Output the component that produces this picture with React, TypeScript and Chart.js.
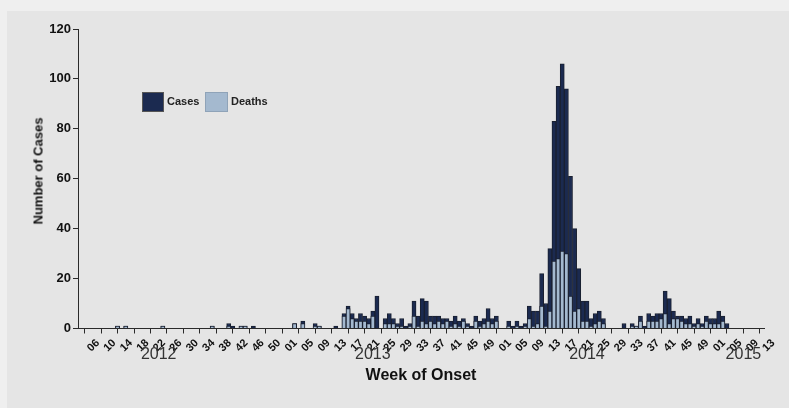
import React, { useEffect, useRef } from "react";
import { Chart, registerables } from "chart.js";
Chart.register(...registerables);

// Weekly counts, 2012 week 06 .. 2015 week 13
const cases2012 = [0,0,0,0,0,0, 1,0,1, 0,0,0,0,0,0,0,0, 1, 0,0,0,0,0,0,0,0,0,0,0, 1, 0,0,0, 2,1,0,1,1,0,1, 0,0,0,0,0,0,0];
const deaths2012 = [0,0,0,0,0,0, 1,0,1, 0,0,0,0,0,0,0,0, 1, 0,0,0,0,0,0,0,0,0,0,0, 1, 0,0,0, 1,0,0,1,1,0,0, 0,0,0,0,0,0,0];

const cases2013 = [
  0,0,2,0,3,0,0,2,1,0,
  0,0,1,0,6,9,6,4,6,5,
  4,7,13,0,4,6,4,2,4,1,
  2,11,5,12,11,5,5,5,4,4,
  3,5,3,4,2,1,5,3,4,8,
  4,5];
const deaths2013 = [
  0,0,2,0,2,0,0,1,1,0,
  0,0,0,0,5,8,4,3,3,3,
  2,5,0,0,2,2,2,1,1,0,
  1,5,1,3,2,3,2,3,2,3,
  1,2,1,3,1,0,3,1,2,3,
  2,3];

const cases2014 = [
  0,0,3,1,3,1,2,9,7,7,
  22,10,32,83,97,106,96,61,40,24,
  11,11,4,6,7,4,0,0,0,0,
  2,0,2,1,5,1,6,5,6,6,
  15,12,7,5,5,4,5,2,4,2,
  5,4];
const deaths2014 = [
  0,0,1,0,1,0,1,4,1,2,
  9,1,7,27,28,31,30,13,7,8,
  3,3,1,2,3,2,0,0,0,0,
  0,0,1,1,3,0,3,3,3,4,
  6,2,4,4,3,2,2,1,2,1,
  3,2];

const cases2015 = [4,7,5,2,0,0,0,0,0,0,0,0,0];
const deaths2015 = [2,2,3,0,0,0,0,0,0,0,0,0,0];

const tickLabels = [
  "06","10","14","18","22","26","30","34","38","42","46","50",
  "01","05","09","13","17","21","25","29","33","37","41","45","49",
  "01","05","09","13","17","21","25","29","33","37","41","45","49",
  "01","05","09","13"];
const yearLabels = ["2012", "2013", "2014", "2015"];
const yearLabelWeekIndex = [16, 68, 120, 158];

const seriesLabels = ["Cases", "Deaths"];
const COLORS = { cases: "#1b2a50", deaths: "#a4b9cf", edge: "#1a2030", axis: "#2a2a2a" };
const FONT = '"Liberation Sans", Arial, sans-serif';

export default function App() {
  const canvasRef = useRef<HTMLCanvasElement | null>(null);

  useEffect(() => {
    if (!canvasRef.current) return;
    const cases = [...cases2012, ...cases2013, ...cases2014, ...cases2015];
    const deaths = [...deaths2012, ...deaths2013, ...deaths2014, ...deaths2015];
    const casePts = cases.map((v, i) => ({ x: i, y: v }));
    const deathPts = deaths.map((v, i) => ({ x: i, y: v }));

    const yearPlugin = {
      id: "years",
      afterDraw(chart: any) {
        const ctx = chart.ctx;
        const xs = chart.scales.x;
        ctx.save();
        ctx.font = `16px ${FONT}`;
        ctx.fillStyle = "#333";
        ctx.textAlign = "center";
        ctx.textBaseline = "middle";
        yearLabels.forEach((t, k) => ctx.fillText(t, xs.getPixelForValue(yearLabelWeekIndex[k]), 355));
        ctx.restore();
      },
    };

    const chart = new Chart(canvasRef.current, {
      type: "bar",
      data: {
        datasets: [
          {
            label: seriesLabels[1],
            data: deathPts,
            backgroundColor: COLORS.deaths,
            borderColor: COLORS.edge,
            borderWidth: 1,
            grouped: false,
            order: 1,
            barPercentage: 1,
            categoryPercentage: 1,
          } as any,
          {
            label: seriesLabels[0],
            data: casePts,
            backgroundColor: COLORS.cases,
            borderColor: COLORS.edge,
            borderWidth: 1,
            grouped: false,
            order: 2,
            barPercentage: 1,
            categoryPercentage: 1,
          } as any,
        ],
      },
      options: {
        responsive: false,
        animation: false,
        layout: { padding: { left: 0, right: 25, top: 29, bottom: 0 } },
        plugins: { legend: { display: false }, tooltip: { enabled: false } },
        scales: {
          x: {
            type: "linear",
            min: -3.6,
            max: 163,
            offset: false,
            afterBuildTicks: (s: any) => {
              s.ticks = tickLabels.map((_, k) => ({ value: k * 4 }));
            },
            afterFit: (s: any) => {
              s.height = 79.5;
            },
            ticks: {
              autoSkip: false,
              maxRotation: 45,
              minRotation: 45,
              padding: 3,
              labelOffset: 5,
              color: "#111",
              font: { family: FONT, size: 11, weight: "bold" },
              callback: (_v: any, index: number) => tickLabels[index],
            },
            grid: { drawOnChartArea: false, drawTicks: true, tickLength: 5, color: COLORS.axis },
            border: { display: true, color: COLORS.axis, width: 1 },
          },
          y: {
            min: 0,
            max: 120,
            afterFit: (s: any) => {
              s.width = 78;
            },
            ticks: {
              stepSize: 20,
              padding: 2,
              color: "#111",
              font: { family: FONT, size: 13, weight: "bold" },
            },
            grid: { drawOnChartArea: false, drawTicks: true, tickLength: 5, color: COLORS.axis },
            border: { display: true, color: COLORS.axis, width: 1 },
          },
        },
      } as any,
      plugins: [yearPlugin],
    });
    return () => chart.destroy();
  }, []);

  return (
    <div style={{ position: "fixed", left: 0, top: 0, width: 789, height: 408, background: "#efefef", overflow: "hidden" }}>
      <div style={{ position: "absolute", left: 7, top: 11, right: 0, bottom: 0, background: "#e5e5e5" }} />
      <canvas ref={canvasRef} width={789} height={408} style={{ position: "absolute", left: 0, top: 0, width: 789, height: 408 }} />
      {/* legend */}
      <div style={{ position: "absolute", left: 142, top: 92, width: 22, height: 20, background: COLORS.cases, boxSizing: "border-box", border: "1px solid #555" }} />
      <div style={{ position: "absolute", left: 167, top: 95, font: `bold 11px ${FONT}`, color: "#222" }}>{seriesLabels[0]}</div>
      <div style={{ position: "absolute", left: 205, top: 92, width: 23, height: 20, background: COLORS.deaths, boxSizing: "border-box", border: "1px solid #8fa3b8" }} />
      <div style={{ position: "absolute", left: 231, top: 95, font: `bold 11px ${FONT}`, color: "#222" }}>{seriesLabels[1]}</div>
      {/* axis titles */}
      <div style={{ position: "absolute", left: 38, top: 171, transform: "translate(-50%, -50%) rotate(-90deg)", whiteSpace: "nowrap", font: `bold 13px ${FONT}`, color: "#111" }}>Number of Cases</div>
      <div style={{ position: "absolute", left: 421, top: 375, transform: "translate(-50%, -50%)", whiteSpace: "nowrap", font: `bold 16px ${FONT}`, color: "#111" }}>Week of Onset</div>
    </div>
  );
}
